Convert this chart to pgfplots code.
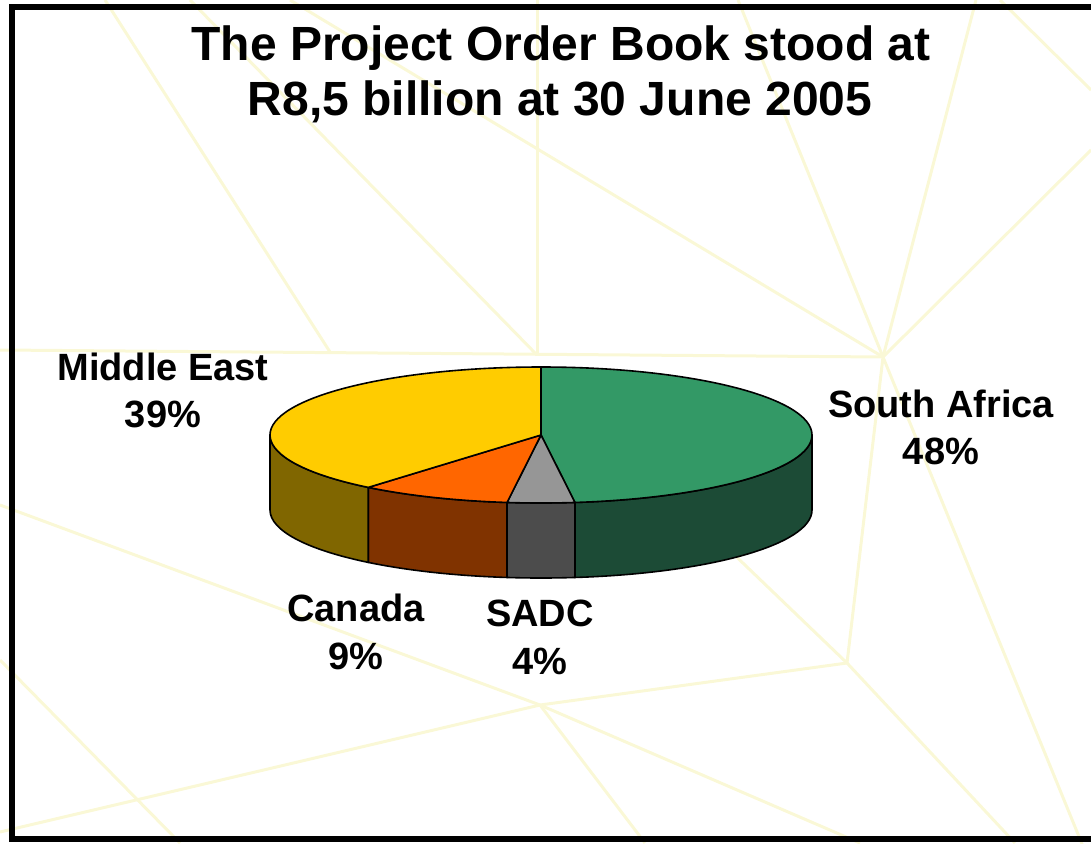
\documentclass[border=0pt]{standalone}
\usepackage{pgfplots}
\pgfplotsset{compat=1.18}
\usepackage{fontspec}
\setmainfont{Liberation Sans}
\definecolor{bgline}{RGB}{250,248,214}
\definecolor{sagreen}{RGB}{51,153,102}
\definecolor{sagreenD}{RGB}{28,75,54}
\definecolor{sadcgray}{RGB}{150,150,150}
\definecolor{sadcgrayD}{RGB}{76,76,76}
\definecolor{canorange}{RGB}{255,102,0}
\definecolor{canorangeD}{RGB}{128,51,0}
\definecolor{meyellow}{RGB}{255,204,0}
\definecolor{meyellowD}{RGB}{128,102,0}
\begin{document}
\begin{tikzpicture}
\begin{axis}[
  width=1091pt, height=843pt, scale only axis,
  xmin=0, xmax=1091, ymin=0, ymax=843, y dir=reverse,
  enlargelimits=false, hide axis, clip=false]
% background web
\foreach \xa/\ya/\xb/\yb in {105/0/330/352, 190/0/537/355, 290/0/883/357, 537/0/537/355,
  0/350/883/357, 738/0/883/357, 976/0/883/357, 1091/150/883/357, 883/357/847/663,
  883/357/1091/866, 1000/0/1091/90, 847/663/620/445, 847/663/540/705, 847/663/1015/843,
  540/705/0/832, 540/705/860/843, 540/705/645/843, 0/660/180/843, 0/505/540/705}{
  \edef\temp{\noexpand\draw[bgline, line width=3pt] (axis cs:\xa,\ya) -- (axis cs:\xb,\yb);}
  \temp
}
% side faces (value/top colour/side colour)
\foreach \v/\tc/\sc [remember=\cum as \last (initially 0)] in {48/sagreen/sagreenD, 4/sadcgray/sadcgrayD, 9/canorange/canorangeD, 39/meyellow/meyellowD}{
  \pgfmathsetmacro\cum{\last+\v}
  \pgfmathsetmacro\s{90-3.6*\last}
  \pgfmathsetmacro\e{90-3.6*\cum}
  \pgfmathsetmacro\lo{max(\e,-180)}
  \pgfmathsetmacro\hi{min(\s,0)}
  \pgfmathparse{\lo<\hi ? 1 : 0}
  \ifnum\pgfmathresult=1
    \edef\temp{\noexpand\filldraw[fill=\sc, draw=black, line width=1.6pt, line join=round]
      (axis cs:541,435) ++(\hi:271pt and 68pt)
      arc[start angle=\hi, end angle=\lo, x radius=271pt, y radius=68pt]
      -- ++(0,-75pt)
      arc[start angle=\lo, end angle=\hi, x radius=271pt, y radius=68pt] -- cycle;}
    \temp
  \fi
}
% top faces
\foreach \v/\tc/\sc [remember=\cum as \last (initially 0)] in {48/sagreen/sagreenD, 4/sadcgray/sadcgrayD, 9/canorange/canorangeD, 39/meyellow/meyellowD}{
  \pgfmathsetmacro\cum{\last+\v}
  \pgfmathsetmacro\s{90-3.6*\last}
  \pgfmathsetmacro\e{90-3.6*\cum}
  \edef\temp{\noexpand\filldraw[fill=\tc, draw=black, line width=1.6pt, line join=round]
    (axis cs:541,435) -- ++(\s:271pt and 68pt)
    arc[start angle=\s, end angle=\e, x radius=271pt, y radius=68pt] -- cycle;}
  \temp
}
% title
\node[anchor=base, font=\fontsize{48}{55}\selectfont\bfseries] at (axis cs:561,60) {The Project Order Book stood at};
\node[anchor=base, font=\fontsize{48}{55}\selectfont\bfseries] at (axis cs:560,115) {R8,5 billion at 30 June 2005};
% labels
\tikzset{lab/.style={anchor=base, font=\fontsize{38}{46}\selectfont\bfseries}}
\node[lab] at (axis cs:163,380) {Middle East};
\node[lab] at (axis cs:163,427) {39\%};
\node[lab] at (axis cs:941,417) {South Africa};
\node[lab] at (axis cs:941,464) {48\%};
\node[lab] at (axis cs:356,621) {Canada};
\node[lab] at (axis cs:356,669) {9\%};
\node[lab] at (axis cs:540,626) {SADC};
\node[lab] at (axis cs:540,674) {4\%};
% frame
\draw[line width=6pt] (axis cs:12,7) rectangle (axis cs:1096,839);
\end{axis}
\pgfresetboundingbox
\path (current axis.south west) rectangle (current axis.north east);
\end{tikzpicture}
\end{document}
